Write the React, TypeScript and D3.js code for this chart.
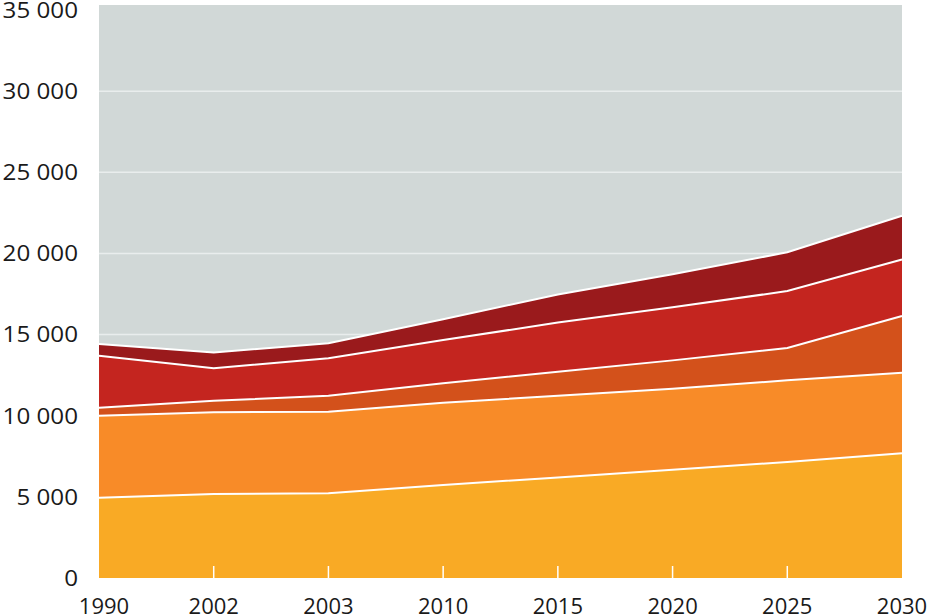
import React from "react";
import * as d3 from "d3";

const years = ["1990", "2002", "2003", "2010", "2015", "2020", "2025", "2030"];
const seriesA = [4950, 5180, 5220, 5730, 6200, 6670, 7150, 7680];
const seriesB = [5050, 5030, 5030, 5070, 5030, 4990, 5030, 4970];
const seriesC = [490, 710, 980, 1200, 1480, 1750, 1990, 3490];
const seriesD = [3210, 2000, 2310, 2660, 3030, 3270, 3510, 3490];
const seriesE = [720, 980, 920, 1290, 1730, 2040, 2390, 2690];
const yTicks = [0, 5000, 10000, 15000, 20000, 25000, 30000, 35000];

const seriesKeys = ["A", "B", "C", "D", "E"];
const seriesValues = [seriesA, seriesB, seriesC, seriesD, seriesE];
const colors = ["#f9aa25", "#f88b28", "#d3511b", "#c4251f", "#9a1a1c"];

const W = 928;
const H = 615;
const left = 99;
const right = 902;
const top = 5;
const bottom = 578;

export default function App() {
  const rows = years.map((yr, i) => {
    const r: any = { year: yr };
    seriesKeys.forEach((k, j) => (r[k] = seriesValues[j][i]));
    return r;
  });
  const stacked = d3.stack().keys(seriesKeys)(rows);
  const x = d3.scalePoint<string>().domain(years).range([left, right]);
  const y = d3.scaleLinear().domain([0, 35000]).range([bottom, 10]);

  const area = d3
    .area<any>()
    .x((d) => x(d.data.year) as number)
    .y0((d) => y(d[0]))
    .y1((d) => y(d[1]));
  const line = d3
    .line<any>()
    .x((d) => x(d.data.year) as number)
    .y((d) => y(d[1]));

  const fmt = (v: number) => d3.format(",")(v).replace(/,/g, " ");

  return (
    <svg
      width={W}
      height={H}
      style={{ position: "absolute", left: 0, top: 0, display: "block" }}
      fontFamily="'Open Sans', sans-serif"
    >
      <rect x={0} y={0} width={W} height={H} fill="#ffffff" />
      <rect x={left} y={top} width={right - left} height={bottom - top} fill="#d1d8d7" />
      {yTicks
        .filter((t) => t > 0 && t < 35000)
        .map((t) => (
          <line
            key={"g" + t}
            x1={left}
            x2={right}
            y1={y(t)}
            y2={y(t)}
            stroke="#e9eded"
            strokeWidth={1.5}
          />
        ))}
      {stacked.map((s, i) => (
        <path key={"a" + i} d={area(s as any) || ""} fill={colors[i]} />
      ))}
      {stacked.map((s, i) => (
        <path
          key={"l" + i}
          d={line(s as any) || ""}
          fill="none"
          stroke="#ffffff"
          strokeWidth={2}
        />
      ))}
      {years.slice(1, -1).map((yr) => (
        <line
          key={"t" + yr}
          x1={x(yr)}
          x2={x(yr)}
          y1={bottom - 12}
          y2={bottom}
          stroke="#ffffff"
          strokeWidth={1.5}
        />
      ))}
      {yTicks.map((t) => (
        <g key={"y" + t} transform={`translate(78,${y(t)}) scale(1.1,1)`}>
          <text
            x={0}
            y={0}
            dy="0.36em"
            textAnchor="end"
            fontSize={22}
            fill="#1a1a1a"
          >
            {fmt(t)}
          </text>
        </g>
      ))}
      {years.map((yr, i) => (
        <text
          key={"x" + yr}
          x={(x(yr) as number) + (i === 0 ? 5 : 0)}
          y={613.5}
          textAnchor="middle"
          fontSize={22}
          fill="#1a1a1a"
        >
          {yr}
        </text>
      ))}
    </svg>
  );
}
